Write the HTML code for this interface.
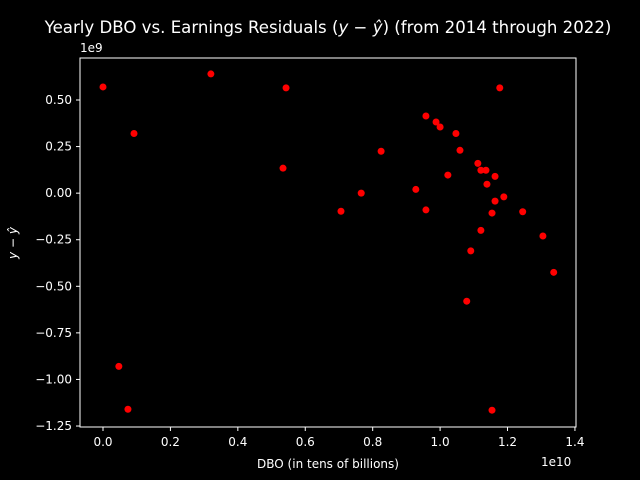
<!DOCTYPE html>
<html><head><meta charset="utf-8"><style>
body{margin:0;background:#000;}
svg{display:block;font-family:"DejaVu Sans","Liberation Sans",sans-serif;}
</style></head><body>
<svg id="chart" width="640" height="480">
<rect width="640" height="480" fill="#000"/>
<text x="328" y="33" fill="#fff" font-size="16.6" text-anchor="middle">Yearly DBO vs. Earnings Residuals (<tspan font-style="italic">y</tspan> − <tspan font-style="italic">ŷ</tspan>) (from 2014 through 2022)</text>
<rect x="80" y="58" width="496" height="369" fill="none" stroke="#fff" stroke-width="1"/>
<g id="xticks"></g>
<g id="yticks"></g>
<g id="pts"></g>
<text x="328" y="468" fill="#fff" font-size="12" text-anchor="middle">DBO (in tens of billions)</text>
<text x="541" y="466" fill="#fff" font-size="12">1e10</text>
<text x="80" y="52" fill="#fff" font-size="12">1e9</text>
<text transform="translate(17,243) rotate(-90)" fill="#fff" font-size="12" text-anchor="middle" font-style="italic">y − ŷ</text>
</svg>
<script>
const xTicks=[0.0,0.2,0.4,0.6,0.8,1.0,1.2,1.4];
const yTicks=[0.5,0.25,0.0,-0.25,-0.5,-0.75,-1.0,-1.25];
const dbo=[0,0.092,0.32,0.543,0.534,0.047,0.074,0.706,0.766,0.825,0.928,0.958,0.958,0.988,1.0,1.047,1.059,1.023,1.112,1.121,1.136,1.139,1.163,1.163,1.154,1.189,1.121,1.091,1.177,1.079,1.154,1.245,1.305,1.337];
const resid=[0.57,0.32,0.64,0.565,0.134,-0.93,-1.16,-0.097,0.0,0.225,0.02,-0.09,0.414,0.382,0.355,0.32,0.23,0.097,0.16,0.123,0.123,0.048,0.09,-0.043,-0.107,-0.02,-0.2,-0.31,0.565,-0.58,-1.165,-0.1,-0.23,-0.425];
const X=v=>103+v*337.1, Y=v=>100+(0.5-v)*186.3;
const NS="http://www.w3.org/2000/svg";
function mk(t,a,p){const e=document.createElementNS(NS,t);for(const k in a)e.setAttribute(k,a[k]);p.appendChild(e);return e;}
const xg=document.getElementById('xticks'),yg=document.getElementById('yticks'),pg=document.getElementById('pts');
xTicks.forEach(v=>{const x=X(v);
const l=mk('line',{x1:x,x2:x,y1:427,y2:431,stroke:'#fff'},xg);


const t=mk('text',{x:x,y:446,fill:'#fff','font-size':12,'text-anchor':'middle'},xg);t.textContent=v.toFixed(1);

});
yTicks.forEach(v=>{const y=Y(v);
const l=mk('line',{x1:76,x2:80,y1:y,y2:y,stroke:'#fff'},yg);


const t=mk('text',{x:72,y:y+4,fill:'#fff','font-size':12,'text-anchor':'end'},yg);t.textContent=(v<0?'−':'')+Math.abs(v).toFixed(2);

});
dbo.forEach((d,i)=>{const c=mk('circle',{cx:X(d),cy:Y(resid[i]),r:3.5,fill:'#f00'},pg);

});
</script>
</body></html>
